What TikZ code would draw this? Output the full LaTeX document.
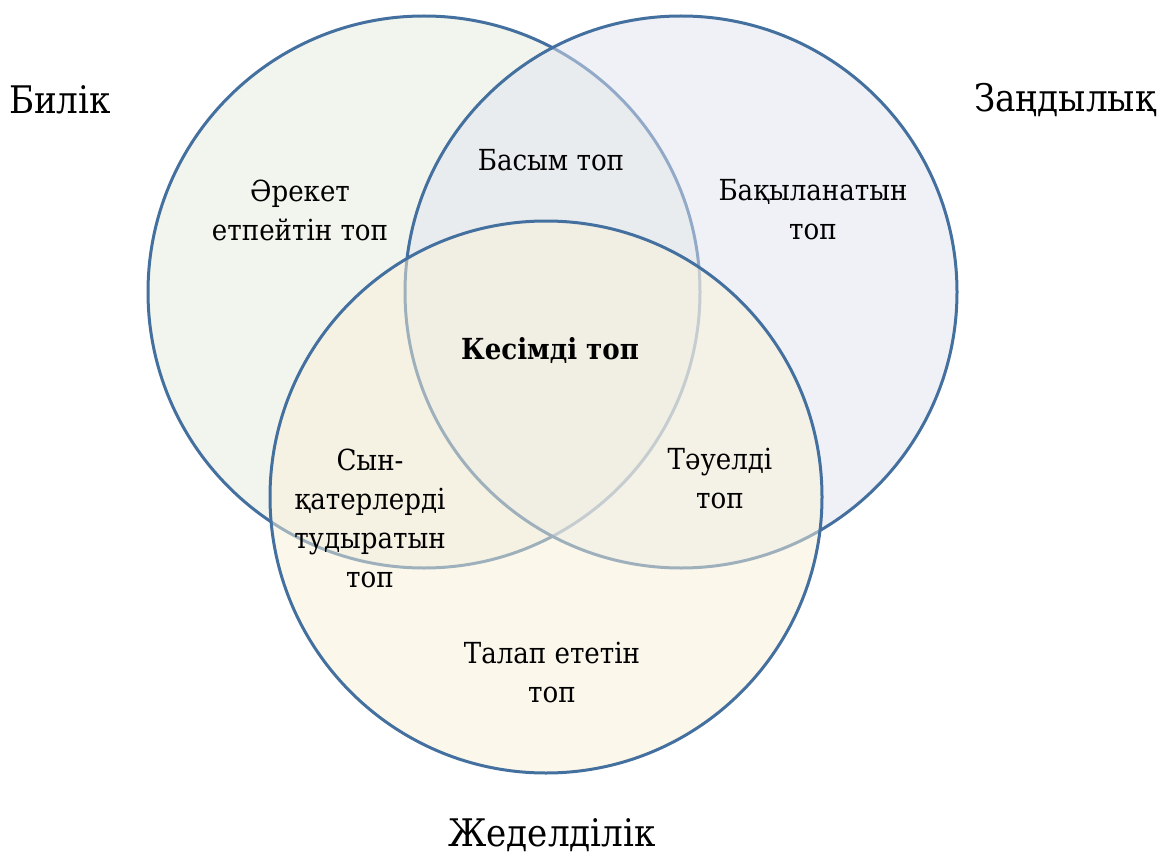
\documentclass[tikz,border=0pt]{standalone}
\usepackage{fontspec}
\newfontfamily\tnr{DejaVu Serif Condensed}
\definecolor{edge}{HTML}{44709F}
\definecolor{fa}{HTML}{E7EDDF}
\definecolor{fb}{HTML}{E1E5F1}
\definecolor{fc}{HTML}{F9F1D9}
\begin{document}
\begin{tikzpicture}[x=1pt,y=-1pt,
  venn/.style={draw=edge,line width=3pt,fill opacity=0.5},
  outer/.style={font=\tnr\fontsize{38}{48}\selectfont,inner sep=0pt},
  inner/.style={font=\tnr\fontsize{29}{39}\selectfont,align=center,inner sep=0pt}]
\fill[white] (0,0) rectangle (1160,856);
\useasboundingbox (0,0) rectangle (1160,856);
\draw[venn,fill=fa] (424,292) circle[radius=276];
\draw[venn,fill=fb] (681,292) circle[radius=276];
\draw[venn,fill=fc] (546,497) circle[radius=276];
\node[outer] (bilik) at (60,100) {Билік};
\node[outer] (zand) at (1065,100) {Заңдылық};
\node[outer] (zhed) at (552,835) {Жеделділік};
\node[inner] (basym) at (551,160) {Басым топ};
\node[inner] (areket) at (300,210) {Әрекет\\етпейтін топ};
\node[inner] (baqyl) at (813,210) {Бақыланатын\\топ};
\node[inner,font=\tnr\fontsize{29}{39}\selectfont\bfseries] (kesim) at (550,350) {Кесімді топ};
\node[inner] (syn) at (370,518) {Сын-\\қатерлерді\\тудыратын\\топ};
\node[inner] (tauel) at (720,479) {Тәуелді\\топ};
\node[inner] (talap) at (552,673) {Талап ететін\\топ};
\end{tikzpicture}
\end{document}
